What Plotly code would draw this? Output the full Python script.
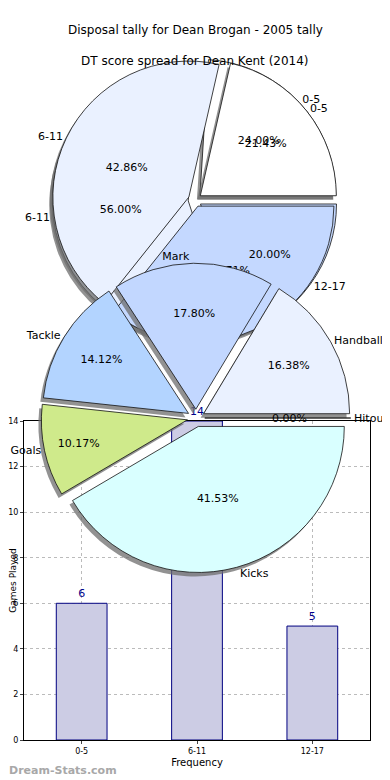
import math
import plotly.graph_objects as go

# page is photographed in a 390x780 window; the html body has an 8px margin
WIN_W, WIN_H = 390, 780
OFF = 8
W, H = WIN_W - OFF, WIN_H - OFF

# ---------------- data ----------------
title_bar = "Disposal tally for Dean Brogan - 2005 tally"
title_pie = "DT score spread for Dean Kent (2014)"

bar_categories = ["0-5", "6-11", "12-17"]
bar_values = [6, 14, 5]
y_tick_values = [0, 2, 4, 6, 8, 10, 12, 14]

spreadA_labels = ["0-5", "6-11", "12-17"]
spreadA_values = [6, 14, 5]
spreadB_labels = ["0-5", "6-11", "12-17"]
spreadB_values = [3, 6, 5]

disp_labels = ["Handballs", "Mark", "Tackle", "Goals", "Kicks", "Hitout"]
disp_values = [16.38, 17.80, 14.12, 10.17, 41.53, 0.00]

# ---------------- styles ----------------
FONT = "DejaVu Sans"
spread_colors = ["#FFFFFF", "#EAF1FF", "#C4D8FF"]
disp_colors = ["#EAF1FF", "#C2D7FF", "#B3D4FF", "#CFEA8B", "#D9FFFF", "#FFFFFF"]
SHADOW = "rgba(110,110,110,0.75)"
EDGE = dict(color="#111111", width=0.8)
CLEAR = "rgba(0,0,0,0)"


def px_x(sx):
    return (sx - OFF) / W


def px_y(sy):
    return 1 - (sy - OFF) / H


def dom(cx, cy, half, dx=0, dy=0):
    cx += dx
    cy += dy
    return dict(x=[px_x(cx - half), px_x(cx + half)],
                y=[px_y(cy + half), px_y(cy - half)])


def start_rot(values):
    return 90 - 360.0 * values[0] / sum(values)


fig = go.Figure()

# ---------------- bar chart ----------------
fig.add_trace(go.Bar(
    x=bar_categories, y=bar_values, width=0.44,
    marker=dict(color="#CCCCE4", line=dict(color="#000080", width=1)),
    text=[str(v) for v in bar_values], textposition="outside",
    textfont=dict(color="#00008B", size=11, family=FONT),
    cliponaxis=False, showlegend=False, hoverinfo="skip"))

# ---------------- pies ----------------
topC = (195, 200)
topR = 136
topPull = 0.05
topHalf = topR * (1 + topPull)

botC = (196, 418)
botR = 146
botPull = 0.06
botHalf = botR * (1 + botPull)


def common(labels, values, pull):
    return dict(labels=labels, values=values, sort=False,
                direction="counterclockwise", rotation=start_rot(values),
                pull=[pull] * len(values), showlegend=False, hoverinfo="skip",
                automargin=False)


def add_wedges(labels, values, colors, center, half, pull):
    c = common(labels, values, pull)
    fig.add_trace(go.Pie(
        **c, domain=dom(center[0], center[1], half, -3, 4),
        marker=dict(colors=[SHADOW] * len(values), line=dict(width=0)),
        textinfo="none"))
    fig.add_trace(go.Pie(
        **c, domain=dom(center[0], center[1], half),
        marker=dict(colors=colors, line=EDGE), textinfo="none"))


def add_texts(labels, values, center, half, pull):
    c = common(labels, values, pull)
    fig.add_trace(go.Pie(
        **c, domain=dom(center[0], center[1], half),
        marker=dict(colors=[CLEAR] * len(values), line=dict(width=0)),
        texttemplate="%{percent:.2%}", textposition="inside",
        insidetextorientation="horizontal",
        textfont=dict(family=FONT, size=11, color="black")))
    fig.add_trace(go.Pie(
        **c, domain=dom(center[0], center[1], half),
        marker=dict(colors=[CLEAR] * len(values), line=dict(width=0)),
        texttemplate="%{label}", textposition="outside",
        textfont=dict(family=FONT, size=11, color="black")))


# top pies: both drawn, then their texts on top of both
add_wedges(spreadA_labels, spreadA_values, spread_colors, topC, topHalf, topPull)
add_wedges(spreadB_labels, spreadB_values, spread_colors, topC, topHalf, topPull)
add_texts(spreadA_labels, spreadA_values, topC, topHalf, topPull)
add_texts(spreadB_labels, spreadB_values, topC, topHalf, topPull)
# bottom pie
add_wedges(disp_labels, disp_values, disp_colors, botC, botHalf, botPull)
add_texts(disp_labels, disp_values, botC, botHalf, botPull)

# percentage text for zero-size slices (plotly draws no text for them)
annotations = []
total = sum(disp_values)
cum = 0.0
for lab, v in zip(disp_labels, disp_values):
    if v == 0:
        ang = math.radians(360.0 * cum / total)  # counterclockwise from 3 o'clock
        sx = botC[0] + 0.64 * botR * math.cos(ang)
        sy = botC[1] - 0.64 * botR * math.sin(ang)
        annotations.append(dict(text="%.2f%%" % (100 * v / total), x=px_x(sx), y=px_y(sy),
                                xref="paper", yref="paper", showarrow=False,
                                font=dict(size=11, family=FONT), xanchor="center",
                                yanchor="middle"))
    cum += v

annotations += [
    dict(text=title_bar, x=px_x(195), y=px_y(30), xref="paper", yref="paper",
         showarrow=False, font=dict(size=12, family=FONT), xanchor="center", yanchor="middle"),
    dict(text=title_pie, x=px_x(195), y=px_y(61), xref="paper", yref="paper",
         showarrow=False, font=dict(size=12, family=FONT), xanchor="center", yanchor="middle"),
    dict(text="<b>Dream-Stats.com</b>", x=px_x(8), y=px_y(770), xref="paper", yref="paper",
         showarrow=False, font=dict(size=11, family=FONT, color="#A8A8A8"),
         xanchor="left", yanchor="middle", borderpad=0),
]

# ---------------- layout ----------------
fig.update_layout(
    width=W, height=H, margin=dict(l=0, r=0, t=0, b=0, autoexpand=False),
    paper_bgcolor="white", plot_bgcolor="white", showlegend=False,
    font=dict(family=FONT, size=11, color="black"),
    xaxis=dict(domain=[px_x(24), px_x(370)], range=[-0.5, 2.5], type="category",
               showline=True, mirror=True, linecolor="black", linewidth=1,
               ticks="outside", ticklen=3, tickfont=dict(size=8, family=FONT),
               showgrid=True, gridcolor="#BBBBBB", griddash="dot",
               title=dict(text="Frequency", font=dict(size=10, family=FONT), standoff=4),
               automargin=False, zeroline=False),
    yaxis=dict(domain=[px_y(740), px_y(421)], range=[0, 14],
               tickvals=y_tick_values, showline=True, mirror=True,
               linecolor="black", linewidth=1, ticks="outside", ticklen=3,
               tickfont=dict(size=8, family=FONT),
               showgrid=True, gridcolor="#BBBBBB", griddash="dot",
               title=dict(text="Games Played", font=dict(size=9, family=FONT), standoff=1),
               automargin=False, zeroline=False),
    annotations=annotations,
)

fig.write_html("out.html")
